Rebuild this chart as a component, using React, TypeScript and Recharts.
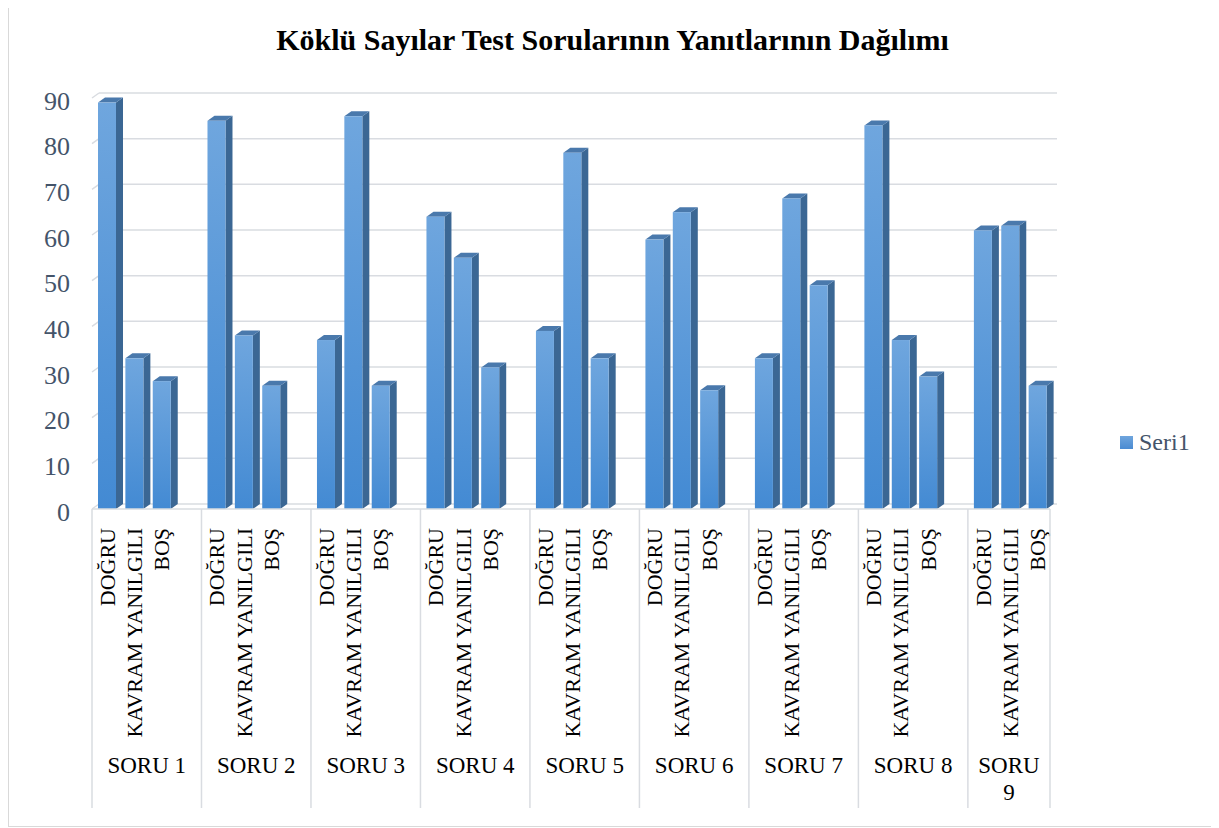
import React from "react";
import { BarChart, Bar, XAxis, YAxis, CartesianGrid } from "recharts";

const groups = ["SORU 1", "SORU 2", "SORU 3", "SORU 4", "SORU 5", "SORU 6", "SORU 7", "SORU 8", "SORU 9"];
const answers = ["DOĞRU", "KAVRAM YANILGILI", "BOŞ"];
const seri1 = [
  89, 33, 28,
  85, 38, 27,
  37, 86, 27,
  64, 55, 31,
  39, 78, 33,
  59, 65, 26,
  33, 68, 49,
  84, 37, 29,
  61, 62, 27,
];
const yTicks = [0, 10, 20, 30, 40, 50, 60, 70, 80, 90];

const FONT = "'Liberation Serif', 'Times New Roman', serif";
const GRID = "#D9DCE1";
const DX = 7;
const DY = 5;

type Row = { key: string; group: string; answer: string; value: number | null; gi: number; start: boolean; size: number };

// one empty slot between groups, like the sheet
const rows: Row[] = [];
groups.forEach((g, gi) => {
  const last = gi === groups.length - 1;
  const size = last ? answers.length : answers.length + 1;
  answers.forEach((a, ai) => {
    rows.push({ key: `${g}|${a}`, group: g, answer: a, value: seri1[gi * 3 + ai], gi, start: ai === 0, size });
  });
  if (!last) rows.push({ key: `gap${gi}`, group: g, answer: "", value: null, gi, start: false, size });
});

function Bar3D(props: any) {
  const { x, y, width, height, payload } = props;
  if (payload?.value == null || !height || height <= 0) return null;
  const bx = x + 1;
  return (
    <g>
      <polygon
        points={`${bx + width},${y} ${bx + width + DX},${y - DY} ${bx + width + DX},${y + height - DY} ${bx + width},${y + height}`}
        fill="#3B6794"
      />
      <polygon
        points={`${bx},${y} ${bx + DX},${y - DY} ${bx + width + DX},${y - DY} ${bx + width},${y}`}
        fill="#4A79AC"
      />
      <rect x={bx} y={y} width={width} height={height} fill="url(#frontGrad)" />
    </g>
  );
}

function GridLine(props: any) {
  const { x1, y1, x2 } = props;
  return (
    <g key={props.key}>
      <line x1={x1} y1={y1} x2={x1 + DX} y2={y1 - DY} stroke={GRID} strokeWidth={1.5} />
      <line x1={x1 + DX} y1={y1 - DY} x2={x2 + DX} y2={y1 - DY} stroke={GRID} strokeWidth={1.5} />
    </g>
  );
}

function YTick(props: any) {
  const { x, y, payload } = props;
  return (
    <text x={x - 14} y={y + 3} textAnchor="end" dominantBaseline="central" fontFamily={FONT} fontSize={26} fill="#44546A">
      {payload.value}
    </text>
  );
}

function XTick(props: any) {
  const { x, y, payload } = props;
  const i = payload.index;
  const r = rows[i];
  const off = payload.offset ?? 13.7;
  if (!r) return null;
  const parts: React.ReactNode[] = [];
  if (r.answer) {
    parts.push(
      <text key="a" transform={`translate(${x + 9},${y + 19}) rotate(-90)`} textAnchor="end" fontFamily={FONT} fontSize={22} fill="#000">
        {r.answer}
      </text>
    );
  }
  if (r.start) {
    const left = x - off;
    const cx = left + r.size * off;
    const narrow = r.size < 4;
    parts.push(<line key="d" x1={left} y1={y} x2={left} y2={y + 299} stroke={GRID} strokeWidth={1.5} />);
    if (narrow) {
      const [w1, w2] = r.group.split(" ");
      parts.push(
        <text key="g" x={cx} y={y + 256} textAnchor="middle" dominantBaseline="central" fontFamily={FONT} fontSize={23} fill="#000">
          <tspan x={cx}>{w1}</tspan>
          <tspan x={cx} dy={27}>{w2}</tspan>
        </text>
      );
    } else {
      parts.push(
        <text key="g" x={cx} y={y + 256} textAnchor="middle" dominantBaseline="central" fontFamily={FONT} fontSize={23} fill="#000">
          {r.group}
        </text>
      );
    }
  }
  if (i === rows.length - 1) {
    parts.push(<line key="e" x1={x + off} y1={y} x2={x + off} y2={y + 299} stroke={GRID} strokeWidth={1.5} />);
  }
  return <g>{parts}</g>;
}

export default function App() {
  return (
    <div style={{ position: "relative", width: 1207, height: 824, border: "1px solid #D9D9D9", marginTop: -7, background: "#fff" }}>
      <div
        style={{
          position: "absolute", left: 0, right: 0, top: 21, textAlign: "center",
          fontFamily: FONT, fontWeight: "bold", fontSize: 30, color: "#000",
        }}
      >
        Köklü Sayılar Test Sorularının Yanıtlarının Dağılımı
      </div>
      <div
        style={{
          position: "absolute", left: 1111, top: 427, display: "flex", alignItems: "center",
          fontFamily: FONT, fontSize: 24, color: "#44546A",
        }}
      >
        <span style={{ width: 13, height: 13, background: "linear-gradient(#6FA5DD, #4A8BD2)", marginRight: 6, display: "inline-block" }} />
        Seri1
      </div>
      <BarChart
        width={1207}
        height={824}
        data={rows}
        margin={{ top: 96, right: 166, bottom: 0, left: 23 }}
        barSize={18}
        style={{ position: "absolute", left: 0, top: 0 }}
      >
        <defs>
          <linearGradient id="frontGrad" x1="0" y1="0" x2="0" y2="1">
            <stop offset="0%" stopColor="#6FA6DE" />
            <stop offset="100%" stopColor="#438AD3" />
          </linearGradient>
        </defs>
        <CartesianGrid vertical={false} horizontal={(p: any) => <GridLine {...p} />} />
        <XAxis
          dataKey="key"
          interval={0}
          height={317}
          tickLine={false}
          tickSize={0}
          tickMargin={0}
          axisLine={{ stroke: GRID, strokeWidth: 1.5 }}
          tick={<XTick />}
        />
        <YAxis
          width={60}
          domain={[0, 90]}
          ticks={yTicks}
          axisLine={false}
          tickLine={false}
          tick={<YTick />}
        />
        <Bar dataKey="value" name="Seri1" fill="#5B9BD5" shape={<Bar3D />} isAnimationActive={false} />
      </BarChart>
    </div>
  );
}
